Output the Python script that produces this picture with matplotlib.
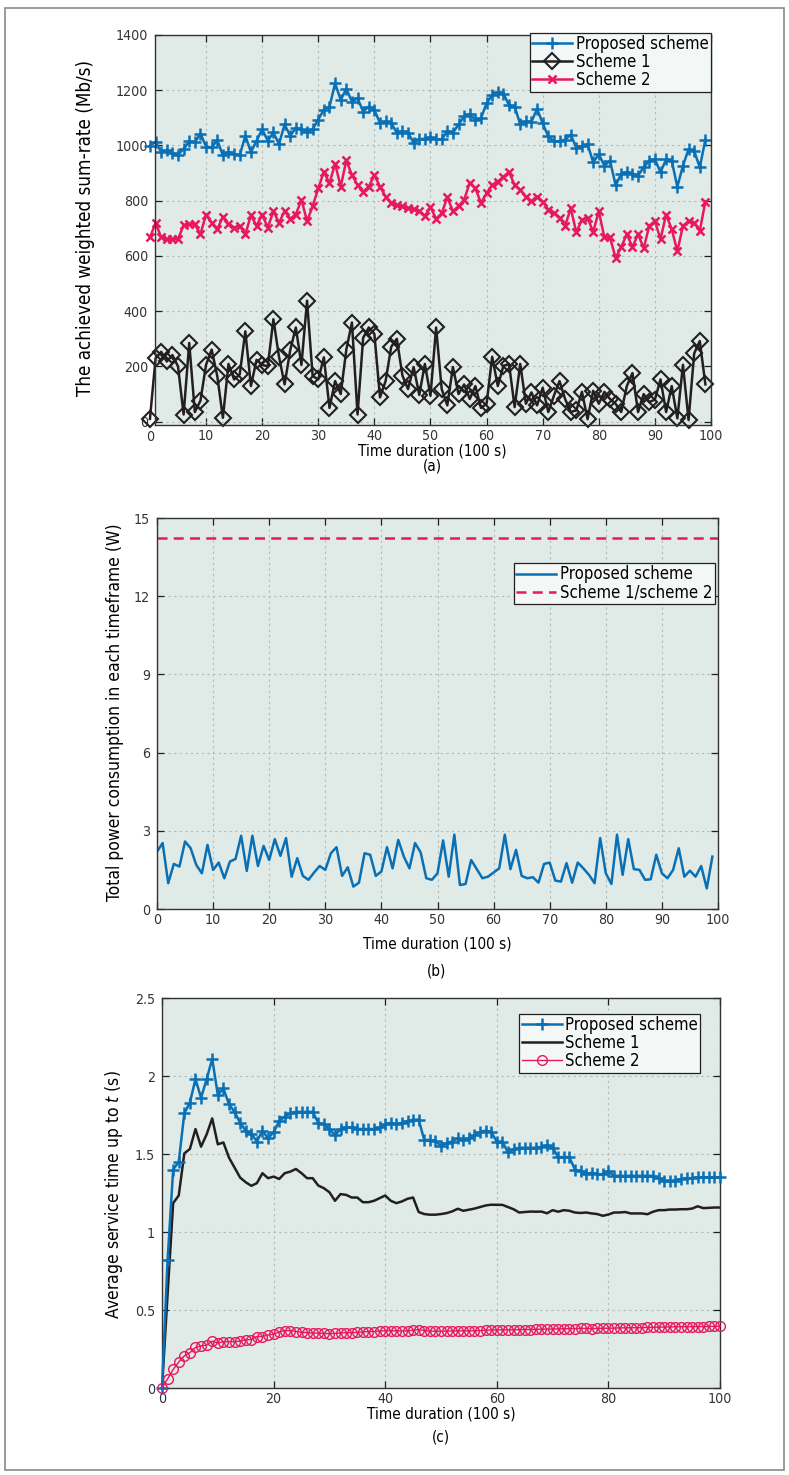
import numpy as np
import matplotlib
matplotlib.use("Agg")
import matplotlib.pyplot as plt
import matplotlib.font_manager as fm
from matplotlib.patches import Rectangle
from matplotlib.transforms import blended_transform_factory

# ---- data -------------------------------------------------------------
t_a = np.arange(0, 100)
rate_proposed = [999, 1013, 976, 984, 972, 967, 987, 1015, 1011, 1043,
                 996, 993, 1019, 964, 976, 970, 964, 1035, 976, 1017,
                 1059, 1017, 1047, 1005, 1076, 1035, 1064, 1059, 1047, 1059,
                 1094, 1130, 1140, 1225, 1165, 1205, 1159, 1171, 1123, 1141,
                 1129, 1081, 1087, 1081, 1046, 1052, 1046, 1010, 1022, 1025,
                 1029, 1022, 1022, 1052, 1046, 1076, 1105, 1113, 1093, 1099,
                 1153, 1182, 1192, 1188, 1146, 1141, 1076, 1087, 1086, 1133,
                 1080, 1033, 1015, 1015, 1021, 1039, 992, 998, 1004, 939,
                 968, 927, 945, 856, 897, 903, 897, 891, 921, 945,
                 950, 903, 950, 945, 850, 927, 986, 980, 921, 1021]
rate_scheme1 = [10, 229, 253, 218, 241, 200, 26, 285, 35, 76,
                206, 261, 165, 14, 209, 153, 171, 327, 129, 224,
                206, 200, 371, 235, 135, 259, 341, 206, 438, 165,
                153, 233, 50, 147, 100, 261, 359, 26, 304, 341,
                318, 88, 147, 271, 300, 167, 118, 198, 97, 209,
                94, 341, 118, 59, 198, 100, 135, 82, 129, 50,
                65, 235, 129, 202, 209, 53, 209, 65, 106, 59,
                123, 35, 94, 147, 82, 35, 41, 108, 9, 112,
                65, 108, 82, 65, 35, 129, 176, 35, 100, 71,
                80, 153, 35, 129, 12, 206, 6, 247, 292, 135]
rate_scheme2 = [667, 720, 667, 661, 661, 661, 711, 715, 715, 679,
                750, 720, 697, 742, 715, 703, 709, 679, 747, 709,
                750, 703, 762, 720, 762, 735, 750, 804, 726, 780,
                845, 904, 863, 934, 851, 946, 893, 857, 833, 851,
                893, 851, 815, 792, 783, 780, 774, 770, 762, 744,
                777, 735, 754, 813, 762, 780, 804, 865, 845, 792,
                827, 857, 869, 887, 904, 857, 839, 815, 798, 815,
                797, 768, 756, 738, 709, 773, 685, 732, 738, 687,
                762, 667, 667, 593, 632, 679, 632, 679, 628, 709,
                726, 661, 750, 697, 617, 709, 726, 720, 691, 797]

t_b = np.arange(0, 100)
power_proposed = [2.2, 2.53, 0.99, 1.73, 1.63, 2.59, 2.33, 1.69, 1.37, 2.46,
                  1.5, 1.78, 1.18, 1.82, 1.92, 2.81, 1.46, 2.81, 1.65, 2.42,
                  1.88, 2.68, 2.04, 2.72, 1.24, 1.95, 1.27, 1.12, 1.4, 1.65,
                  1.5, 2.14, 2.37, 1.27, 1.6, 0.86, 1.01, 2.14, 2.08, 1.27,
                  1.44, 2.37, 1.56, 2.65, 2.01, 1.56, 2.53, 2.17, 1.18, 1.12,
                  1.37, 2.63, 1.24, 2.85, 0.92, 0.96, 1.88, 1.53, 1.18, 1.24,
                  1.4, 1.56, 2.85, 1.53, 2.27, 1.27, 1.18, 1.22, 1.01, 1.73,
                  1.78, 1.09, 1.05, 1.76, 1.01, 1.78, 1.56, 1.31, 0.99, 2.72,
                  1.37, 0.96, 2.85, 1.31, 2.68, 1.53, 1.5, 1.12, 1.14, 2.08,
                  1.37, 1.18, 1.5, 2.33, 1.24, 1.47, 1.24, 1.65, 0.79, 2.01]
power_baseline = 14.25

t_c = np.arange(0, 101)
svc_proposed = [0, 0.82, 1.40, 1.45, 1.76, 1.83, 1.98, 1.86, 1.98, 2.11,
                1.88, 1.92, 1.82, 1.77, 1.70, 1.65, 1.63, 1.58, 1.65, 1.60,
                1.64, 1.71, 1.74, 1.76, 1.77, 1.77, 1.77, 1.77, 1.70, 1.69,
                1.66, 1.62, 1.66, 1.67, 1.67, 1.66, 1.66, 1.66, 1.66, 1.67,
                1.69, 1.70, 1.69, 1.70, 1.71, 1.72, 1.72, 1.59, 1.59, 1.585,
                1.55, 1.57, 1.58, 1.60, 1.59, 1.60, 1.62, 1.64, 1.65, 1.64,
                1.58, 1.58, 1.51, 1.53, 1.54, 1.54, 1.54, 1.54, 1.545, 1.555,
                1.54, 1.48, 1.48, 1.48, 1.40, 1.39, 1.37, 1.38, 1.37, 1.37,
                1.39, 1.36, 1.36, 1.36, 1.36, 1.36, 1.36, 1.36, 1.36, 1.345,
                1.33, 1.33, 1.33, 1.34, 1.345, 1.345, 1.35, 1.35, 1.35, 1.35, 1.35]
svc_scheme1 = [0, 0.6, 1.185, 1.234, 1.504, 1.532, 1.66, 1.547, 1.626, 1.728,
               1.562, 1.574, 1.477, 1.413, 1.349, 1.319, 1.296, 1.313, 1.377, 1.345,
               1.355, 1.34, 1.377, 1.387, 1.404, 1.377, 1.345, 1.345, 1.298, 1.281,
               1.255, 1.2, 1.243, 1.238, 1.221, 1.221, 1.191, 1.191, 1.2, 1.217,
               1.234, 1.2, 1.185, 1.196, 1.213, 1.221, 1.128, 1.115, 1.111, 1.111,
               1.115, 1.121, 1.132, 1.149, 1.136, 1.143, 1.15, 1.16, 1.17, 1.175,
               1.174, 1.174, 1.16, 1.146, 1.125, 1.128, 1.131, 1.13, 1.131, 1.12,
               1.14, 1.13, 1.14, 1.136, 1.125, 1.122, 1.125, 1.119, 1.115, 1.104,
               1.112, 1.125, 1.125, 1.128, 1.119, 1.119, 1.119, 1.114, 1.13, 1.14,
               1.14, 1.144, 1.144, 1.146, 1.146, 1.15, 1.165, 1.153, 1.155, 1.157, 1.157]
svc_scheme2 = [0, 0.058, 0.119, 0.167, 0.206, 0.227, 0.26, 0.27, 0.275, 0.30,
               0.288, 0.297, 0.297, 0.297, 0.30, 0.31, 0.31, 0.33, 0.33, 0.34,
               0.345, 0.36, 0.368, 0.368, 0.362, 0.357, 0.355, 0.352, 0.352, 0.35,
               0.348, 0.35, 0.353, 0.355, 0.355, 0.357, 0.36, 0.362, 0.362, 0.365,
               0.367, 0.368, 0.366, 0.365, 0.367, 0.37, 0.375, 0.368, 0.365, 0.364,
               0.364, 0.365, 0.366, 0.366, 0.367, 0.366, 0.367, 0.368, 0.37, 0.372,
               0.372, 0.373, 0.373, 0.374, 0.374, 0.375, 0.375, 0.376, 0.377, 0.378,
               0.378, 0.379, 0.38, 0.38, 0.381, 0.382, 0.382, 0.381, 0.382, 0.383,
               0.383, 0.384, 0.385, 0.386, 0.386, 0.387, 0.387, 0.388, 0.389, 0.39,
               0.391, 0.392, 0.392, 0.393, 0.393, 0.393, 0.394, 0.394, 0.395, 0.395, 0.396]

# ---- style ------------------------------------------------------------
names = {f.name for f in fm.fontManager.ttflist}
if 'Liberation Sans Narrow' in names:
    plt.rcParams['font.family'] = ['Liberation Sans Narrow', 'DejaVu Sans']
else:
    plt.rcParams['font.family'] = ['DejaVu Sans']
    plt.rcParams['font.stretch'] = 'condensed'

BLUE = '#0a70b5'
RED = '#e8185e'
BLACK = '#231f20'
BG = '#e0eae6'
LEGBG = '#f3f7f6'
TICKFS = 10.2

fig = plt.figure(figsize=(7.89, 14.75), dpi=100)
W, H = 789., 1475.


def make_axes(l, t, r, b):
    ax = fig.add_axes([l / W, 1 - b / H, (r - l) / W, (b - t) / H])
    ax.set_facecolor(BG)
    ax.grid(True, linestyle=(0, (2, 3)), color='#b3b9b7', linewidth=0.8)
    ax.tick_params(direction='in', top=True, right=True, length=5,
                   width=0.9, labelsize=TICKFS, color=BLACK, labelcolor='#333333')
    ax.tick_params(axis='x', pad=3)
    ax.tick_params(axis='y', pad=5)
    for s in ax.spines.values():
        s.set_linewidth(1.0)
        s.set_color('#333333')
    return ax


def make_legend(ax, anchor):
    leg = ax.legend(loc='upper right', bbox_to_anchor=anchor, fancybox=False,
                    framealpha=1, facecolor=LEGBG, edgecolor=BLACK, fontsize=12,
                    handlelength=2.4, handletextpad=0.2, labelspacing=0.0,
                    borderpad=0.15, borderaxespad=0)
    leg.get_frame().set_linewidth(0.9)
    return leg


def label_texts(xlab, ylab, ylab_x, ylab_y, ylab_fs, cap, cap_y):
    fig.text(xlab[0] / W, 1 - xlab[1] / H, 'Time duration (100 s)', ha='center',
             va='center', fontsize=11)
    fig.text(ylab_x / W, 1 - ylab_y / H, ylab, ha='center', va='center',
             rotation=90, fontsize=ylab_fs)
    fig.text(xlab[0] / W, 1 - cap_y / H, cap, ha='center', va='center', fontsize=11)


# ---- (a) ---------------------------------------------------------------
ax = make_axes(155, 35, 711, 425)
ax.plot(t_a, rate_proposed, color=BLUE, lw=1.8, marker='+', ms=8.5, mew=1.8,
        label='Proposed scheme', clip_on=False)
ax.plot(t_a, rate_scheme1, color=BLACK, lw=1.8, marker='D', ms=8.5, mew=1.5,
        mfc='none', label='Scheme 1', clip_on=False)
ax.plot(t_a, rate_scheme2, color=RED, lw=1.8, marker='x', ms=6, mew=1.8,
        label='Scheme 2', clip_on=False)
ax.set_xlim(0.9, 100)
ax.set_ylim(-12, 1400)
ax.set_xticks(range(10, 101, 10))
ax.set_yticks(range(0, 1401, 200))
ax.text(0, -0.012, '0', transform=blended_transform_factory(ax.transData, ax.transAxes),
        ha='center', va='top', fontsize=TICKFS, color='#333333')
make_legend(ax, (1.0, 1.006))
label_texts((432, 451), 'The achieved weighted sum-rate (Mb/s)', 86, 228, 13.5, '(a)', 466)

# ---- (b) ---------------------------------------------------------------
ax = make_axes(157, 518, 718, 909)
ax.plot(t_b, power_proposed, color=BLUE, lw=1.8, label='Proposed scheme')
ax.axhline(power_baseline, color=RED, lw=1.8, linestyle=(0, (4, 2.5)),
           label='Scheme 1/scheme 2')
ax.set_xlim(0, 100)
ax.set_ylim(0, 15)
ax.set_xticks(range(0, 101, 10))
ax.set_yticks(range(0, 16, 3))
make_legend(ax, (0.994, 0.885))
label_texts((437, 944), 'Total power consumption in each timeframe (W)', 115, 712, 12.5, '(b)', 971)

# ---- (c) ---------------------------------------------------------------
ax = make_axes(162, 998, 720, 1388)
ax.plot(t_c, svc_proposed, color=BLUE, lw=1.8, marker='+', ms=8.5, mew=1.8,
        label='Proposed scheme', clip_on=False, zorder=3)
ax.plot(t_c, svc_scheme1, color=BLACK, lw=1.8, label='Scheme 1', zorder=2)
ax.plot(t_c, svc_scheme2, color=RED, lw=1.0, marker='o', ms=7, mew=1.0,
        mfc='none', label='Scheme 2', clip_on=False, zorder=4)
ax.set_xlim(0, 100)
ax.set_ylim(0, 2.5)
ax.set_xticks(range(0, 101, 20))
ax.set_yticks([0, 0.5, 1, 1.5, 2, 2.5])
ax.set_yticklabels(['0', '0.5', '1', '1.5', '2', '2.5'])
make_legend(ax, (0.965, 0.96))
label_texts((441, 1414), 'Average service time up to $\\it{t}$ (s)', 114, 1195, 12.5, '(c)', 1437)

# outer frame
fig.patches.append(Rectangle((5 / W, 1 - 1470 / H), 779 / W, 1462 / H,
                             transform=fig.transFigure, fill=False,
                             edgecolor='#8a8a8a', linewidth=1.2))

fig.savefig('out.png', dpi=100)
